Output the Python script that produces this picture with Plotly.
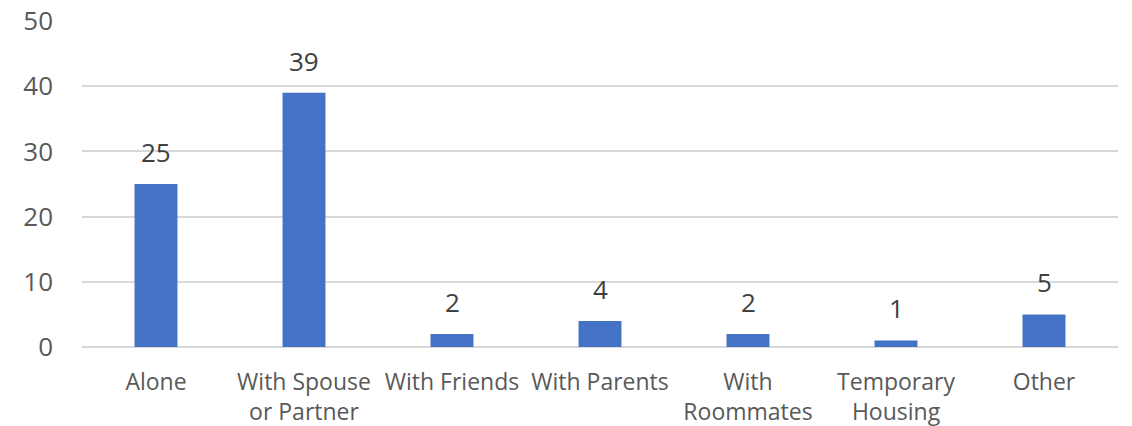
import plotly.graph_objects as go

categories = ["Alone", "With Spouse<br>or Partner", "With Friends", "With Parents",
              "With<br>Roommates", "Temporary<br>Housing", "Other"]
counts = [25, 39, 2, 4, 2, 1, 5]
y_ticks = [0, 10, 20, 30, 40, 50]

BAR_COLOR = "#4472C4"
FONT = "Open Sans"

fig = go.Figure(
    go.Bar(
        x=categories,
        y=counts,
        marker=dict(color=BAR_COLOR, line=dict(width=0)),
        width=0.29,
        hoverinfo="x+y",
    )
)

# value labels above each bar
for cat, val in zip(categories, counts):
    fig.add_annotation(
        x=cat, y=val, text=str(val), showarrow=False,
        yanchor="bottom", yshift=12,
        font=dict(family=FONT, size=26, color="#404040"),
    )

fig.update_layout(
    width=1132, height=426,
    margin=dict(l=82, r=14, t=21, b=79, autoexpand=False),
    paper_bgcolor="white", plot_bgcolor="white",
    showlegend=False,
    bargap=0.71,
    font=dict(family=FONT, color="#595959"),
)
fig.update_xaxes(
    showgrid=False, showline=False, ticks="", automargin=False,
    tickfont=dict(family=FONT, size=23, color="#595959"),
    ticklabelstandoff=19,
)
fig.update_yaxes(
    range=[0, 50], tickvals=y_ticks, automargin=False,
    showgrid=True, gridcolor="#d9d9d9", gridwidth=1.5,
    zeroline=True, zerolinecolor="#d9d9d9", zerolinewidth=1.5,
    showline=False, ticks="",
    tickfont=dict(family=FONT, size=26, color="#595959"),
    ticklabelstandoff=28,
)

fig.write_html("out.html")
